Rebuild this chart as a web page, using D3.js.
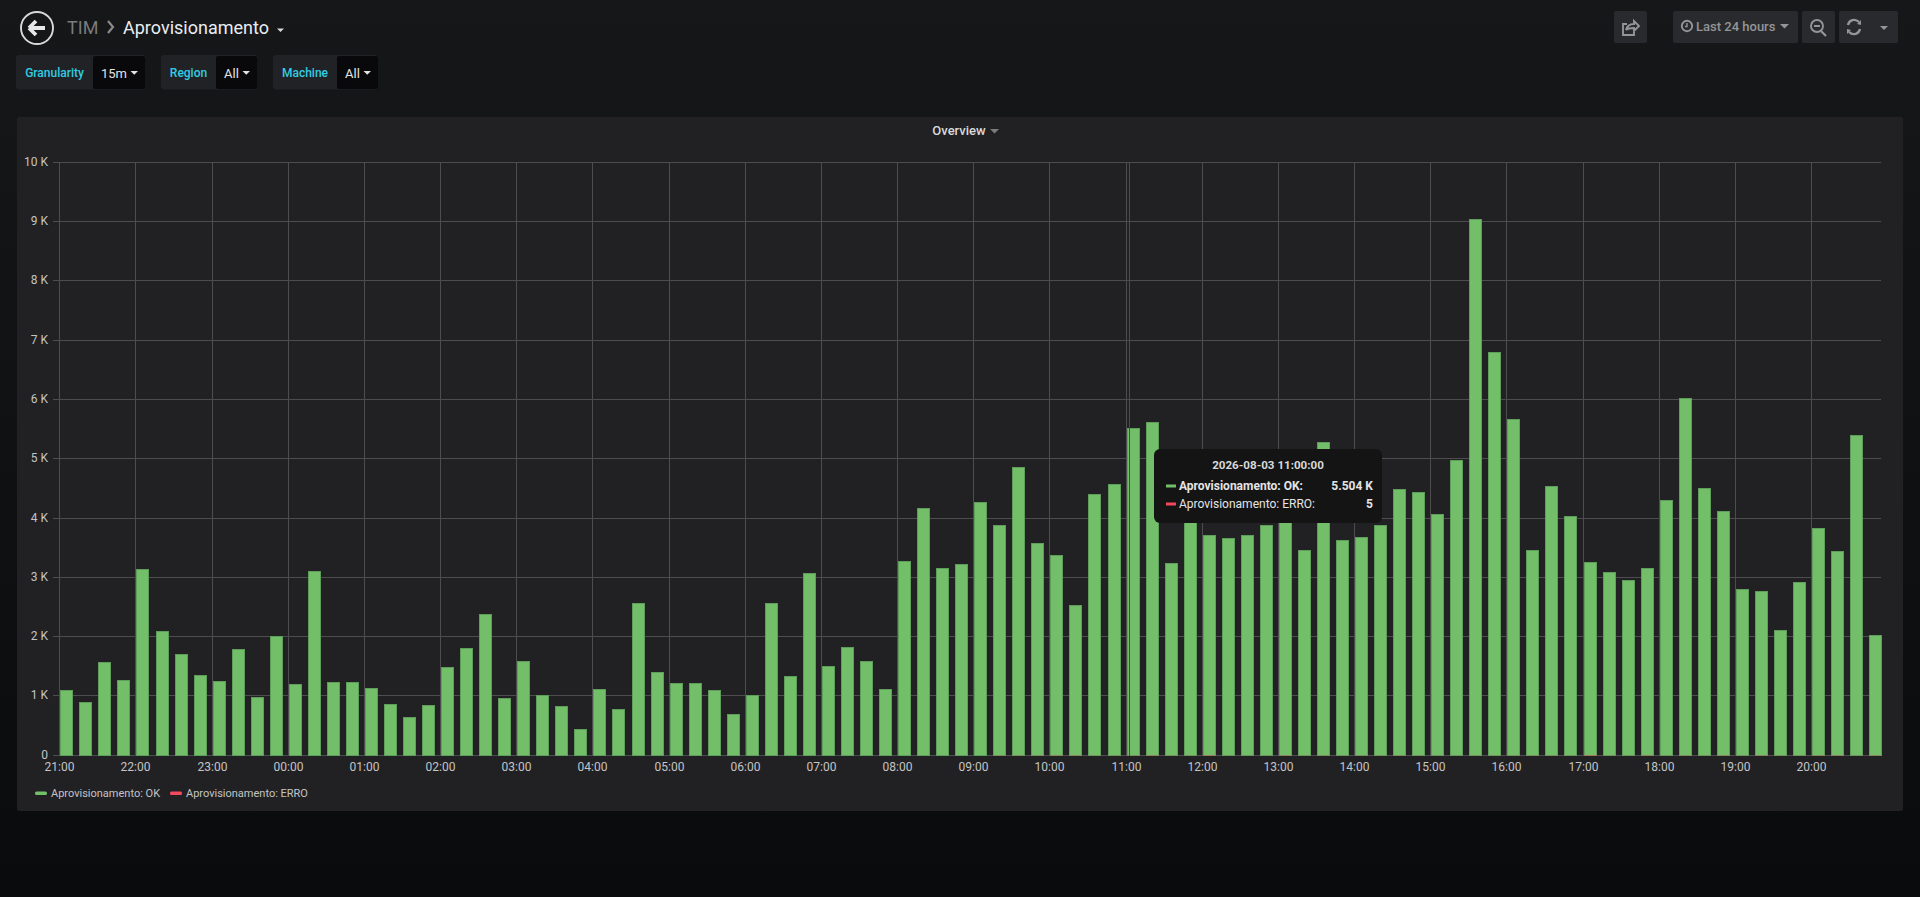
<!DOCTYPE html>
<html>
<head>
<meta charset="utf-8">
<title>TIM - Aprovisionamento</title>
<script src="https://cdn.jsdelivr.net/npm/d3@7"></script>
<style>
  html, body { margin: 0; height: 100%; overflow: hidden; background: linear-gradient(#161719, #0a0b0d); }
  svg { display: block; }
  text { font-family: Roboto, sans-serif; }
  .tick text { font-family: Roboto, sans-serif; font-size: 12px; fill: #c4c4c5; }
  .tick line { stroke: #4d4d4f; }
</style>
</head>
<body>
<svg width="1920" height="897"></svg>
<script>
// values, one per 15 minute slot from 21:00
var okValues = [
  1084, 888, 1567, 1264, 3135, 2079, 1691, 1337, 1247, 1787, 966, 1994,
  1197, 3090, 1225, 1225, 1129, 860, 635, 843, 1472, 1803, 2371, 961,
  1573, 1011, 815, 438, 1112, 775, 2562, 1399, 1213, 1202, 1084, 680,
  1006, 2562, 1320, 3056, 1494, 1820, 1584, 1101, 3270, 4163, 3140, 3208,
  4264, 3882, 4854, 3562, 3376, 2517, 4393, 4567, 5504, 5612, 3225, 3950,
  3713, 3657, 3713, 3876, 3930, 3444, 5270, 3629, 3669, 3876, 4483, 4438,
  4062, 4978, 9045, 6787, 5663, 3444, 4534, 4028, 3253, 3084, 2938, 3140,
  4298, 6022, 4494, 4112, 2798, 2753, 2107, 2910, 3815, 3427, 5393, 2022
];
var erroValues = [
  0, 0, 0, 0, 0, 0, 0, 0, 0, 0, 0, 0,
  0, 0, 0, 0, 0, 0, 0, 0, 0, 0, 0, 0,
  0, 0, 0, 0, 0, 0, 0, 0, 0, 0, 0, 0,
  0, 0, 0, 0, 0, 0, 0, 0, 0, 0, 0, 0,
  0, 6, 5, 6, 9, 8, 4, 3, 5, 9, 3, 3,
  12, 3, 3, 3, 9, 3, 5, 3, 5, 3, 6, 3,
  3, 3, 3, 3, 3, 5, 5, 3, 14, 3, 3, 9,
  3, 6, 3, 8, 3, 9, 3, 3, 8, 9, 3, 9
];
var yTickValues = [0, 1000, 2000, 3000, 4000, 5000, 6000, 7000, 8000, 9000, 10000];
var seriesNames = ["Aprovisionamento: OK", "Aprovisionamento: ERRO"];
var seriesColors = ["#73bf69", "#f2495c"];
var variables = [
  { label: "Granularity", value: "15m", x: 16, split: 93, end: 145 },
  { label: "Region", value: "All", x: 161, split: 216, end: 257 },
  { label: "Machine", value: "All", x: 273, split: 337, end: 378 }
];

var startTime = new Date(2026, 7, 2, 21, 0);
var hoverTime = new Date(2026, 7, 3, 11, 0);
var times = okValues.map(function(d, i) { return d3.timeMinute.offset(startTime, i * 15); });

var svg = d3.select("svg");

// header
var header = svg.append("g");
header.append("circle").attr("cx", 37).attr("cy", 28).attr("r", 16)
    .attr("fill", "none").attr("stroke", "#d8d9da").attr("stroke-width", 1.9);
header.append("path").attr("d", "M29 28 L36 21 M29 28 L36 35 M30 28 L45 28")
    .attr("fill", "none").attr("stroke", "#e8e8e8").attr("stroke-width", 3.8);
header.append("text").attr("x", 67).attr("y", 34).attr("font-size", 18).attr("fill", "#7b7b7b").text("TIM");
header.append("path").attr("d", "M108 21 L113 27 L108 33").attr("fill", "none")
    .attr("stroke", "#8a8a8a").attr("stroke-width", 2.2);
header.append("text").attr("x", 123).attr("y", 34).attr("font-size", 18).attr("fill", "#e9edf2").text("Aprovisionamento");
header.append("path").attr("d", "M277 28.5 h7 l-3.5 3.5 z").attr("fill", "#d8d9da");

// template variables
variables.forEach(function(v) {
  var g = svg.append("g");
  g.append("rect").attr("x", v.x).attr("y", 55).attr("width", v.end - v.x).attr("height", 34.5)
      .attr("rx", 3).attr("fill", "#212226");
  g.append("rect").attr("x", v.split).attr("y", 56).attr("width", v.end - v.split).attr("height", 33)
      .attr("rx", 2).attr("fill", "#09090b");
  g.append("text").attr("x", (v.x + v.split) / 2).attr("y", 77).attr("text-anchor", "middle")
      .attr("font-size", 12).attr("font-weight", 500).attr("fill", "#31cde2").text(v.label);
  g.append("text").attr("x", v.split + 8).attr("y", 78).attr("font-size", 13).attr("fill", "#e3e3e4").text(v.value);
  g.append("path").attr("d", "M" + (v.end - 14.5) + " 71 h7.5 l-3.75 3.75 z").attr("fill", "#e3e3e4");
});

// toolbar on the right
[[1614, 33], [1673, 125], [1802, 33], [1839, 59]].forEach(function(b) {
  svg.append("rect").attr("x", b[0]).attr("y", 11).attr("width", b[1]).attr("height", 32)
      .attr("rx", 2).attr("fill", "#292a2d");
});
var toolbar = svg.append("g").attr("fill", "none").attr("stroke", "#949597").attr("stroke-width", 1.9);
toolbar.append("path").attr("d", "M1634 32 v3 h-11 v-11 h4 M1626 30 c1 -4 4 -6 8 -6 v-3 l5 5 l-5 5 v-3 c-3 0 -6 0 -8 2");
toolbar.append("circle").attr("cx", 1687).attr("cy", 26).attr("r", 5.2);
toolbar.append("path").attr("d", "M1687 23 v3.5 h-2").attr("stroke-width", 1.4);
toolbar.append("circle").attr("cx", 1817).attr("cy", 26).attr("r", 6);
toolbar.append("path").attr("d", "M1814 26 h6 M1821 31 l5 5").attr("stroke-width", 2.2);
toolbar.append("path").attr("d", "M1848 25 c1 -5 7 -7 11 -3 M1860 29 c-1 5 -7 7 -11 3").attr("stroke-width", 2.4);
toolbar.append("path").attr("d", "M1857 24 l4 -4 v5 z M1851 30 l-4 4 v-5 z").attr("fill", "#949597").attr("stroke", "none");
svg.append("path").attr("d", "M1880 26 h8 l-4 4 z").attr("fill", "#949597");
svg.append("path").attr("d", "M1780 24 h9 l-4.5 4.5 z").attr("fill", "#949597");
svg.append("text").attr("x", 1696).attr("y", 31).attr("font-size", 13).attr("font-weight", 500)
    .attr("fill", "#949597").text("Last 24 hours");

// panel
svg.append("rect").attr("x", 17).attr("y", 117).attr("width", 1886).attr("height", 694)
    .attr("rx", 2).attr("fill", "#212124");
svg.append("text").attr("x", 959).attr("y", 135).attr("text-anchor", "middle")
    .attr("font-size", 13).attr("font-weight", 500).attr("fill", "#d8d9da").text("Overview");
svg.append("path").attr("d", "M990 129 h9 l-4.5 4.5 z").attr("fill", "#7b7b7c");

// scales
var x = d3.scaleTime()
    .domain([startTime, d3.timeMinute.offset(startTime, 1435)])
    .rangeRound([59.3, 1880.8]);
var y = d3.scaleLinear()
    .domain([0, 10000])
    .rangeRound([754.6, 161.9]);

// axes double as the grid
svg.append("g")
    .attr("transform", "translate(53,0)")
    .call(d3.axisLeft(y).tickValues(yTickValues).tickSize(-1828).tickPadding(5)
        .tickFormat(function(d) { return d === 0 ? "0" : d / 1000 + " K"; }))
    .call(function(g) { g.select(".domain").remove(); });

svg.append("g")
    .attr("transform", "translate(0,755)")
    .call(d3.axisBottom(x).ticks(d3.timeHour.every(1)).tickSize(-593).tickPadding(7)
        .tickFormat(d3.timeFormat("%H:%M")))
    .call(function(g) { g.select(".domain").remove(); });

// bars
var barWidth = x(d3.timeMinute.offset(startTime, 10.25)) - x(startTime);

svg.append("g").selectAll("rect")
    .data(okValues)
    .enter().append("rect")
    .attr("x", function(d, i) { return x(times[i]) + 1.5; })
    .attr("y", function(d) { return y(d) + 0.5; })
    .attr("width", barWidth - 1)
    .attr("height", function(d) { return y(0) - y(d); })
    .attr("fill", seriesColors[0])
    .attr("stroke", "#5f9e5a");

svg.append("g").selectAll("rect")
    .data(erroValues)
    .enter().append("rect")
    .attr("x", function(d, i) { return x(times[i]) + 1; })
    .attr("y", 755)
    .attr("width", barWidth)
    .attr("height", function(d) { return d > 0 ? 1 : 0; })
    .attr("fill", seriesColors[1])
    .attr("opacity", function(d) { return Math.min(d / 30, 0.6); });

// crosshair
svg.append("line")
    .attr("x1", x(hoverTime) + 3.5).attr("x2", x(hoverTime) + 3.5)
    .attr("y1", y(10000)).attr("y2", y(0) + 1)
    .attr("stroke", "#a5281f").attr("stroke-width", 1);

// legend
[[35, 51], [170, 186]].forEach(function(p, i) {
  svg.append("rect").attr("x", p[0]).attr("y", 791.5).attr("width", 12).attr("height", 3.5)
      .attr("rx", 1.5).attr("fill", seriesColors[i]);
  svg.append("text").attr("x", p[1]).attr("y", 797).attr("font-size", 11)
      .attr("fill", "#c4c4c5").text(seriesNames[i]);
});

// tooltip
var hoverIndex = d3.bisectLeft(times, hoverTime);
var tip = svg.append("g");
tip.append("rect").attr("x", 1154).attr("y", 449).attr("width", 228).attr("height", 74)
    .attr("rx", 6).attr("fill", "#141414");
tip.append("text").attr("x", 1268).attr("y", 469).attr("text-anchor", "middle")
    .attr("font-size", 11.6).attr("font-weight", 700).attr("fill", "#d8d9da")
    .text(d3.timeFormat("%Y-%m-%d %H:%M:%S")(hoverTime));
var tipValues = [(okValues[hoverIndex] / 1000).toFixed(3) + " K", String(erroValues[hoverIndex])];
[486, 504].forEach(function(rowY, i) {
  var weight = i === 0 ? 700 : 400;
  tip.append("rect").attr("x", 1166).attr("y", rowY - 1.5).attr("width", 10).attr("height", 3)
      .attr("fill", seriesColors[i]);
  tip.append("text").attr("x", 1179).attr("y", rowY + 4).attr("font-size", 12)
      .attr("font-weight", weight).attr("fill", "#e4e4e6").text(seriesNames[i] + ":");
  tip.append("text").attr("x", 1373).attr("y", rowY + 4).attr("text-anchor", "end")
      .attr("font-size", 12).attr("font-weight", 700).attr("fill", "#e4e4e6").text(tipValues[i]);
});
</script>
</body>
</html>
